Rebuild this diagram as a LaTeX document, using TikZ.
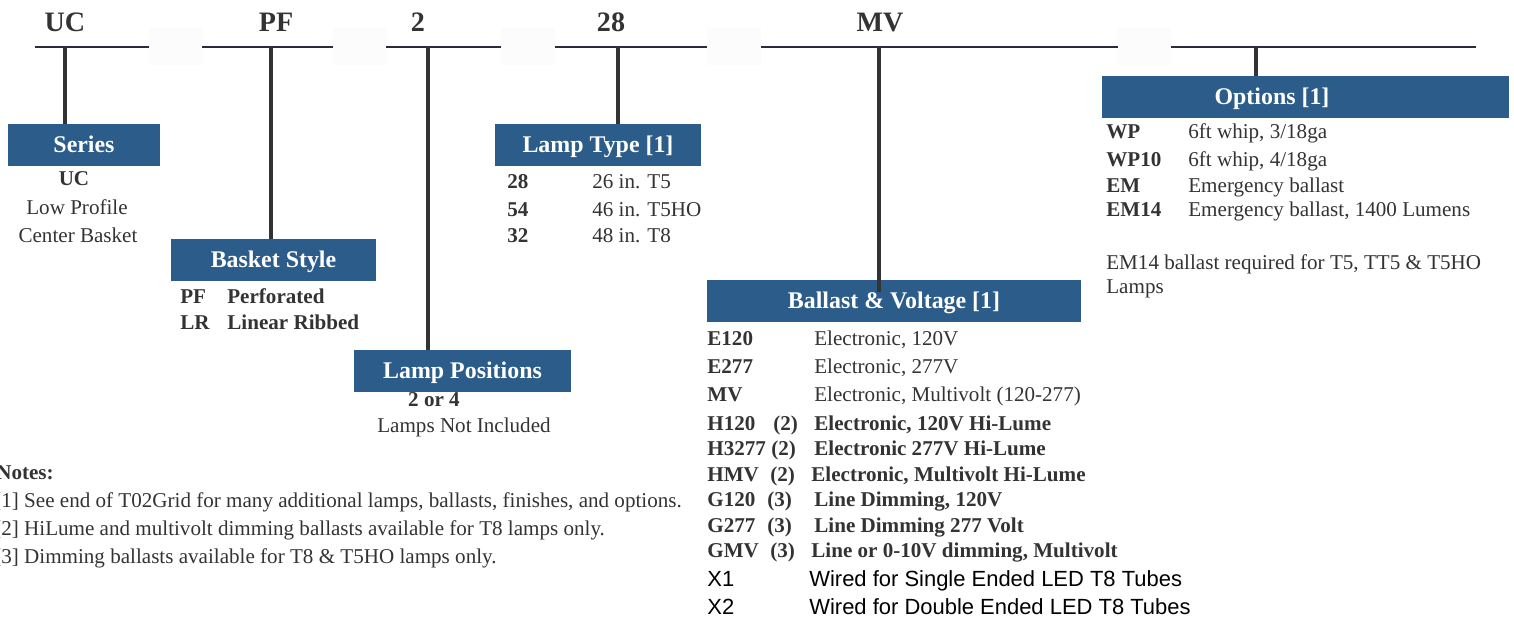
\documentclass[tikz,border=0pt]{standalone}
\usepackage{fontspec}
\setmainfont{Liberation Serif}
\newfontfamily\sansrow{Liberation Sans}

\definecolor{hdrblue}{RGB}{44,92,138}
\definecolor{ink}{RGB}{51,51,51}
\definecolor{barink}{RGB}{42,44,62}

\newcommand\topsize{\fontsize{16}{18}\selectfont}
\newcommand\hdrsize{\fontsize{13.6}{15}\selectfont}
\newcommand\bodysize{\fontsize{12}{14}\selectfont}

\tikzset{
  bar/.style={draw=barink, line width=1.6pt},
  stem/.style={draw=ink, line width=1.8pt},
  gapbox/.style={fill=black!1.2},
  toplbl/.style={anchor=base, inner sep=0pt, text=ink, font=\topsize\bfseries},
  hdrbox/.style={fill=hdrblue, inner sep=0pt, minimum height=0.84cm, text=white,
    font=\hdrsize\bfseries, text height=9pt, text depth=0pt},
  hdrtext/.style={inner sep=0pt, text=white, font=\hdrsize\bfseries, text height=9pt, text depth=0pt},
  code/.style={anchor=base west, inner sep=0pt, text=ink, font=\bodysize\bfseries},
  desc/.style={anchor=base west, inner sep=0pt, text=ink, font=\bodysize},
  mid/.style={anchor=base, inner sep=0pt, text=ink, font=\bodysize},
  xrow/.style={anchor=base west, inner sep=0pt, text=black, font=\fontsize{12.5}{14}\sansrow},
  note/.style={anchor=base west, inner sep=0pt, text=ink, font=\bodysize}
}

\begin{document}
\begin{tikzpicture}[x=0.02cm, y=-0.02cm]
  \useasboundingbox (0,0) rectangle (1514,617);

  % faint fields between the bars
  \foreach \xa/\xb in {149/202, 333/386, 501/555, 707/761, 1118/1171}
    \fill[gapbox] (\xa,28) rectangle (\xb,65);

  % code bars
  \foreach \xa/\xb in {35/149, 202/333, 386/501, 555/707, 761/1118, 1171/1476}
    \draw[bar] (\xa,47) -- (\xb,47);

  \node[toplbl] (ucl) at (65,32) {UC};
  \node[toplbl] (pfl) at (276,32) {PF};
  \node[toplbl] (twol) at (418,32) {2};
  \node[toplbl] (twentyeightl) at (611,32) {28};
  \node[toplbl] (mvl) at (880,32) {MV};

  \coordinate (ucbar) at (65,47);
  \coordinate (pfbar) at (271,47);
  \coordinate (twobar) at (428,47);
  \coordinate (ltbar) at (618,47);
  \coordinate (mvbar) at (879,47);
  \coordinate (optbar) at (1256,47);
  \coordinate (mvtip) at (879,292);

  % header boxes
  \node[hdrbox, minimum width=3.04cm] (series) at (84,145) {Series};
  \node[hdrbox, minimum width=4.1cm] (basket) at (273.5,260) {Basket Style};
  \node[hdrbox, minimum width=4.12cm] (lamptype) at (598,145) {Lamp Type [1]};
  \node[hdrbox, minimum width=4.34cm] (lamppos) at (462.5,371) {Lamp Positions};
  \node[hdrbox, minimum width=7.48cm] (ballast) at (894,301) {Ballast \& Voltage [1]};
  \node[hdrbox, minimum width=8.14cm] (options) at (1305.5,97) {};
  \node[hdrtext] (optionstitle) at (1272,97) {Options [1]};

  % stems
  \draw[stem] (ucbar) -- (ucbar |- series.north);
  \draw[stem] (pfbar) -- (pfbar |- basket.north);
  \draw[stem] (twobar) -- (twobar |- lamppos.north);
  \draw[stem] (ltbar) -- (ltbar |- lamptype.north);
  \draw[stem] (optbar) -- (optbar |- options.north);
  \draw[stem] (mvbar) -- (mvtip);

  % series
  \node[mid, font=\bodysize\bfseries] (ucc) at (74,186) {UC};
  \node[mid] (lowprof) at (77,215) {Low Profile};
  \node[mid] (centerb) at (78,243) {Center Basket};

  % basket style
  \node[code] (pfc) at (180,304) {PF};
  \node[code] (pfd) at (227,304) {Perforated};
  \node[code] (lrc) at (180,330) {LR};
  \node[code] (lrd) at (227,330) {Linear Ribbed};

  % lamp type
  \foreach \c/\d/\yy in {28/26 in. T5/189, 54/46 in. T5HO/217, 32/48 in. T8/243}{
    \node[code] (lt\c) at (507,\yy) {\c};
    \node[desc] (ltd\c) at (592,\yy) {\d};
  }

  % lamp positions
  \node[mid, font=\bodysize\bfseries] (twofour) at (434,407) {2 or 4};
  \node[mid] (notincl) at (464,433) {Lamps Not Included};

  % ballast & voltage
  \foreach \c/\d/\yy in {E120/{Electronic, 120V}/346, E277/{Electronic, 277V}/374,
      MV/{Electronic, Multivolt (120-277)}/402}{
    \node[code] (bv\c) at (707,\yy) {\c};
    \node[desc] (bvd\c) at (814,\yy) {\d};
  }
  \foreach \c/\n/\nx/\d/\dx/\yy in {H120/2/773/{Electronic, 120V Hi-Lume}/814/431,
      H3277/2/771/{Electronic 277V Hi-Lume}/814/456,
      HMV/2/770/{Electronic, Multivolt Hi-Lume}/811/482,
      G120/3/767/{Line Dimming, 120V}/814/507,
      G277/3/767/{Line Dimming 277 Volt}/814/533,
      GMV/3/770/{Line or 0-10V dimming, Multivolt}/811/558}{
    \node[code] (bv\c) at (707,\yy) {\c};
    \node[code] (bvn\c) at (\nx,\yy) {(\n)};
    \node[code] (bvd\c) at (\dx,\yy) {\d};
  }
  \node[xrow] (xone) at (707,587) {X1};
  \node[xrow] (xoned) at (809,587) {Wired for Single Ended LED T8 Tubes};
  \node[xrow] (xtwo) at (707,615) {X2};
  \node[xrow] (xtwod) at (809,615) {Wired for Double Ended LED T8 Tubes};

  % options
  \foreach \c/\d/\yy in {WP/{6ft whip, 3/18ga}/139, WP10/{6ft whip, 4/18ga}/167,
      EM/Emergency ballast/193, EM14/{Emergency ballast, 1400 Lumens}/217}{
    \node[code] (op\c) at (1106,\yy) {\c};
    \node[desc] (opd\c) at (1188,\yy) {\d};
  }
  \node[desc] (emnote) at (1106,270) {EM14 ballast required for T5, TT5 \& T5HO};
  \node[desc] (emnotetwo) at (1106,294) {Lamps};

  % notes
  \node[note, font=\bodysize\bfseries] (notes) at (-4,480) {Notes:};
  \node[note] (noteone) at (-6,508) {[1] See end of T02Grid for many additional lamps, ballasts, finishes, and options.};
  \node[note] (notetwo) at (-6,536) {[2] HiLume and multivolt dimming ballasts available for T8 lamps only.};
  \node[note] (notethree) at (-6,564) {[3] Dimming ballasts available for T8 \& T5HO lamps only.};
\end{tikzpicture}
\end{document}
